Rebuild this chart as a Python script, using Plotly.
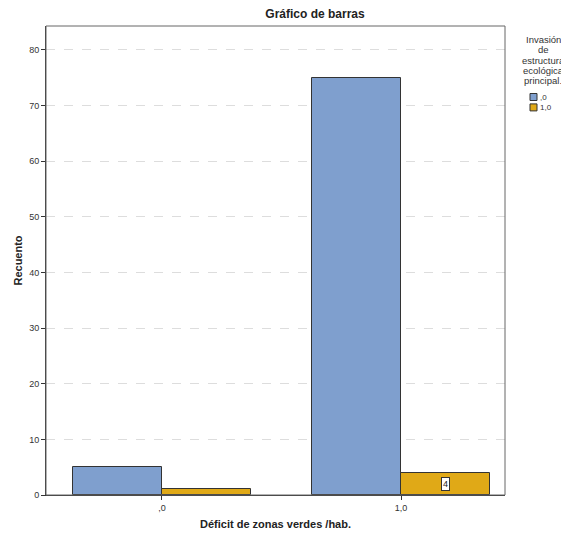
import plotly.graph_objects as go

categories = [",0", "1,0"]
x_pos = [0, 1]
serie_0 = [5, 75]
serie_1 = [1, 4]
series_names = [",0", "1,0"]
series_colors = ["#7F9FCE", "#E0A917"]
y_ticks = [0, 10, 20, 30, 40, 50, 60, 70, 80]
legend_title_lines = ["Invasión", "de", "estructura", "ecológica", "principal."]

OFF = 8  # default page body margin
FW, FH = 569 - OFF, 533 - OFF
L, R, T, B = 46, 505, 26, 495
PW, PH = R - L, B - T


def px_x(p):
    return (p - L) / PW


def px_y(p):
    return (B - p) / PH


W = 0.372
fig = go.Figure()
fig.add_trace(go.Bar(x=x_pos, y=serie_0, name=series_names[0], width=W, offset=-W,
                     marker=dict(color=series_colors[0], line=dict(color="#333333", width=1)),
                     showlegend=False))
fig.add_trace(go.Bar(x=x_pos, y=serie_1, name=series_names[1], width=W, offset=0,
                     marker=dict(color=series_colors[1], line=dict(color="#333333", width=1)),
                     showlegend=False))

fig.add_annotation(x=x_pos[1] + W / 2, y=serie_1[1] / 2, text=str(serie_1[1]), showarrow=False,
                   bgcolor="white", bordercolor="#333333", borderwidth=1, borderpad=1,
                   font=dict(size=9, color="#222"))

# legend title
for i, line in enumerate(legend_title_lines):
    fig.add_annotation(xref="paper", yref="paper", x=px_x(543), y=px_y(39 + i * 10.5),
                       xanchor="center", yanchor="middle", text=line, showarrow=False,
                       font=dict(size=9.5, color="#333"))
# manual legend items
LEG_FS = 8
LEG_SP = LEG_FS * 1.3
leg_y0 = 97
for i, col in enumerate(series_colors):
    yc = leg_y0 + i * LEG_SP
    fig.add_shape(type="rect", xref="paper", yref="paper",
                  x0=px_x(530), x1=px_x(537), y0=px_y(yc + 3.5), y1=px_y(yc - 3.5),
                  fillcolor=col, line=dict(color="#333", width=1))
fig.add_annotation(xref="paper", yref="paper", x=px_x(537.5), y=px_y(leg_y0 + LEG_SP / 2),
                   xanchor="left", yanchor="middle", align="left", text="<br>".join(series_names),
                   showarrow=False, font=dict(size=LEG_FS, color="#333"))

fig.update_layout(
    width=FW, height=FH,
    margin=dict(l=L - OFF, r=FW - (R - OFF), t=T - OFF, b=FH - (B - OFF), autoexpand=False),
    paper_bgcolor="white", plot_bgcolor="white",
    font=dict(family="Liberation Sans, Arial, sans-serif", size=9, color="#333"),
    title=dict(text="<b>Gráfico de barras</b>", x=(315 - OFF) / FW, xanchor="center",
               y=1, yanchor="top", pad=dict(t=2, b=0, l=0, r=0), font=dict(size=12, color="#222")),
    showlegend=False,
    bargap=0,
)
fig.update_xaxes(range=[-0.485, 1.435], tickvals=x_pos, ticktext=categories, automargin=False,
                 ticks="outside", ticklen=4, tickcolor="#333", showgrid=False,
                 showline=True, linecolor="#333", linewidth=1, mirror=False, zeroline=False,
                 title=dict(text="<b>Déficit de zonas verdes /hab.</b>", font=dict(size=11, color="#222"), standoff=8))
fig.update_yaxes(range=[0, 84.3], tickvals=y_ticks, ticks="outside", ticklen=4, tickcolor="#333",
                 automargin=False,
                 showgrid=True, gridcolor="#DDDDDD", griddash="dash", gridwidth=1,
                 showline=True, linecolor="#333", linewidth=1, zeroline=False,
                 title=dict(text="<b>Recuento</b>", font=dict(size=11, color="#222"), standoff=4))
fig.add_shape(type="rect", xref="paper", yref="paper", x0=0, y0=0, x1=1, y1=1,
              line=dict(color="#666", width=1), layer="above")

fig.write_html("out.html")
